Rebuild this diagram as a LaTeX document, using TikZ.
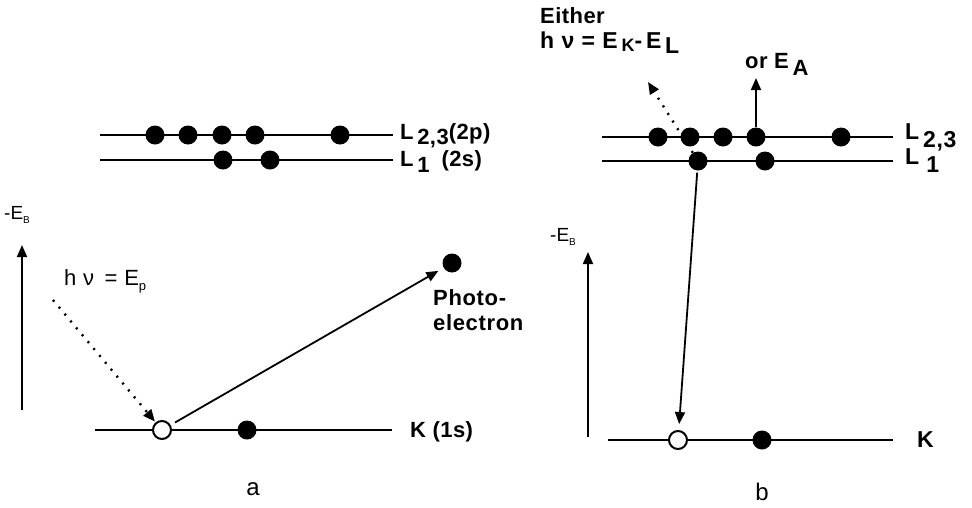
\documentclass[tikz,border=0pt]{standalone}
\usepackage{fontspec}
\setmainfont{Liberation Sans}
\usetikzlibrary{arrows.meta}
\newcommand{\sbx}[2][-5pt]{\raisebox{#1}{#2}}
\begin{document}
\begin{tikzpicture}[x=1pt,y=-1pt,
  level/.style={line width=2.8pt},
  full/.style={circle,fill=black,inner sep=0pt,minimum size=19pt},
  hole/.style={circle,draw=black,line width=2pt,fill=white,inner sep=0pt,minimum size=18pt},
  lbl/.style={anchor=west,inner sep=0pt,font=\bfseries\fontsize{22}{24}\selectfont\addfontfeature{LetterSpace=2}},
  reg/.style={inner sep=0pt,font=\fontsize{24}{26}\selectfont},
  arr/.style={-{Triangle[length=12pt,width=10pt]},line width=1.8pt},
  dotarr/.style={-{Triangle[length=12pt,width=10pt]},line width=2.4pt,dash pattern=on 2pt off 7pt}
]
\useasboundingbox (0,0) rectangle (972,507);

% ---------------- panel a ----------------
\coordinate (a23l) at (100,135); \coordinate (a23r) at (393,135);
\coordinate (a1l) at (100,160);  \coordinate (a1r) at (393,160);
\coordinate (aKl) at (95,430);   \coordinate (aKr) at (392,430);
\draw[level] (a23l) -- (a23r);
\draw[level] (a1l) -- (a1r);
\draw[level] (aKl) -- (aKr);
\node[full] (a2a) at (155,135) {};
\node[full] (a2b) at (188,135) {};
\node[full] (a2c) at (222,135) {};
\node[full] (a2d) at (255,135) {};
\node[full] (a2e) at (340,135) {};
\node[full] (a1a) at (223,160) {};
\node[full] (a1b) at (270,160) {};
\node[hole] (ah) at (162,430) {};
\node[full] (ak) at (247,430) {};
\node[full] (pe) at (452,263) {};

\node[lbl] (la23) at (400,136) {L\,\sbx{2,3}(2p)};
\node[lbl] (la1) at (400,162) {L\,\sbx[-6pt]{1}\hspace{12pt}(2s)};
\node[lbl] (laK) at (410,432) {K (1s)};
\node[lbl,font=\bfseries\fontsize{22}{25}\selectfont\addfontfeature{LetterSpace=3},align=left,anchor=north west] (lpe) at (433,289) {Photo-\\electron};

\node[anchor=west,inner sep=0pt,font=\fontsize{19}{21}\selectfont] (aEB) at (4,215) {-E\sbx[-4pt]{\fontsize{10}{11}\selectfont B}};
\coordinate (aEb) at (22,410); \coordinate (aEt) at (22,245);
\draw[arr] (aEb) -- (aEt);

\node[anchor=west,inner sep=0pt,font=\fontsize{22}{24}\selectfont\addfontfeature{LetterSpace=3}] (ahv) at (64,281) {h ν \,= E\sbx[-5pt]{\fontsize{13}{14}\selectfont p}};
\coordinate (adot) at (53,300);
\draw[dotarr,shorten >=1pt] (adot) -- (ah);
\draw[arr,shorten <=5pt,shorten >=6pt] (ah) -- (pe);

\node[reg] (lbla) at (253,489) {a};

% ---------------- panel b ----------------
\coordinate (b23l) at (602,137); \coordinate (b23r) at (893,137);
\coordinate (b1l) at (602,161);  \coordinate (b1r) at (893,161);
\coordinate (bKl) at (608,440);  \coordinate (bKr) at (893,440);
\draw[level] (b23l) -- (b23r);
\draw[level] (b1l) -- (b1r);
\draw[level] (bKl) -- (bKr);
\node[full] (b2a) at (658,137) {};
\node[full] (b2b) at (690,137) {};
\node[full] (b2c) at (723,137) {};
\node[full] (b2d) at (756,137) {};
\node[full] (b2e) at (841,137) {};
\node[full] (b1a) at (698,161) {};
\node[full] (b1b) at (765,161) {};
\node[hole] (bh) at (678,440) {};
\node[full] (bk) at (762,440) {};

\node[lbl,font=\bfseries\fontsize{23}{25}\selectfont\addfontfeature{LetterSpace=3}] (lb23) at (905,137) {L\,\sbx[-8pt]{2,3}};
\node[lbl,font=\bfseries\fontsize{23}{25}\selectfont] (lb1) at (905,161) {L\hspace{7pt}\sbx[-8pt]{1}};
\node[lbl,font=\bfseries\fontsize{23}{25}\selectfont] (lbK) at (917,440) {K};

\node[anchor=west,inner sep=0pt,font=\fontsize{19}{21}\selectfont] (bEB) at (550,237) {-E\sbx[-4pt]{\fontsize{10}{11}\selectfont B}};
\coordinate (bEb) at (588,437); \coordinate (bEt) at (588,252);
\draw[arr] (bEb) -- (bEt);

\draw[arr,shorten <=2pt,shorten >=6pt] (b1a) -- (bh);
\coordinate (bdt) at (648,82);
\draw[dotarr] (b1a) -- (bdt);
\coordinate (bup) at (756,78);
\draw[arr] (b2d) -- (bup);

\node[lbl] (leither) at (540,16) {Either};
\node[lbl,font=\bfseries\fontsize{23}{25}\selectfont\addfontfeature{LetterSpace=4}] (lhv) at (540,43) {h ν = E\,\sbx[-3pt]{\fontsize{18}{19}\selectfont K}-\,E\,\sbx[-5pt]{L}};
\node[lbl,font=\bfseries\fontsize{22}{24}\selectfont\addfontfeature{LetterSpace=2}] (lor) at (745,64) {or E\,\sbx[-7pt]{A}};

\node[reg] (lblb) at (762,492) {b};
\end{tikzpicture}
\end{document}
